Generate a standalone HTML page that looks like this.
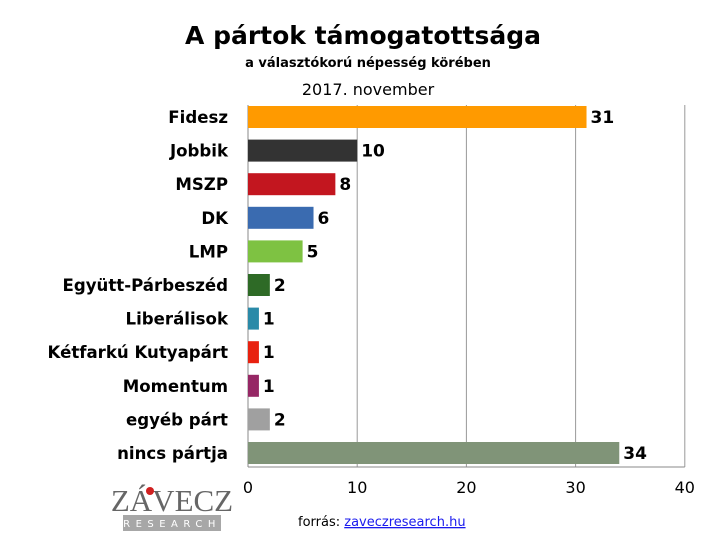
<!DOCTYPE html>
<html><head><meta charset="utf-8"><style>
body{margin:0;background:#fff;width:727px;height:546px;overflow:hidden;font-family:"DejaVu Sans","Liberation Sans",sans-serif}
</style></head><body>
<svg width="727" height="546" xmlns="http://www.w3.org/2000/svg">
<text x="363" y="44" text-anchor="middle" font-size="25" font-weight="bold" fill="#000" font-family="DejaVu Sans,sans-serif">A pártok támogatottsága</text>
<text x="368" y="67" text-anchor="middle" font-size="13" font-weight="bold" fill="#000">a választókorú népesség körében</text>
<text x="368" y="95" text-anchor="middle" font-size="16" fill="#000">2017. november</text>
<g id="grid"></g><g id="bars"></g><g id="ticks"></g>
<g>
<text x="172" y="511" text-anchor="middle" font-family="Liberation Serif,serif" font-size="31" fill="#666">ZÁVECZ</text>
<circle cx="150" cy="491" r="4" fill="#d02020"/>
<rect x="123" y="515" width="98" height="16" fill="#a7a7a7"/>
<text x="172" y="527" text-anchor="middle" font-size="10" fill="#fff" letter-spacing="5.5">RESEARCH</text>
</g>
<text x="298" y="526" font-size="13" fill="#000">forrás: <tspan fill="#1a1aee" text-decoration="underline">zaveczresearch.hu</tspan></text>
</svg>
<script>
const categories=["Fidesz","Jobbik","MSZP","DK","LMP","Együtt-Párbeszéd","Liberálisok","Kétfarkú Kutyapárt","Momentum","egyéb párt","nincs pártja"];
const values=[31,10,8,6,5,2,1,1,1,2,34];
const colors=["#ff9a00","#333333","#c3161f","#3a6bb0","#7ec242","#2e6a26","#2a8aa8","#e8210f","#962765","#a0a0a0","#809478"];
const ticks=[0,10,20,30,40];
const NS="http://www.w3.org/2000/svg";
const X0=248,UNIT=10.92,PTOP=105,PBOT=467,C0=117,STEP=33.6,BH=22;
const xs=v=>X0+v*UNIT;
const ys=i=>C0+i*STEP;
function mk(t,a,p){const e=document.createElementNS(NS,t);for(const k in a)e.setAttribute(k,a[k]);p.appendChild(e);return e;}
const gG=document.getElementById('grid'),gB=document.getElementById('bars'),gT=document.getElementById('ticks');
ticks.forEach(t=>{
 const l=mk('line',{x1:xs(t),x2:xs(t),y1:PTOP,y2:PBOT,stroke:t===0?'#888':'#999','stroke-width':1},gG);
 
 
 const tx=mk('text',{x:xs(t),y:493,'text-anchor':'middle','font-size':16,fill:'#000'},gT);
 tx.textContent=t;
 
 
});
const ax=mk('line',{x1:X0,x2:xs(40),y1:PBOT,y2:PBOT,stroke:'#888'},gG);


categories.forEach((c,i)=>{
 const y=ys(i);
 const r=mk('rect',{x:X0,y:y-BH/2,width:xs(values[i])-X0,height:BH,fill:colors[i]},gB);
 
 
 const v=mk('text',{x:xs(values[i])+4,y:y+6,'font-size':17,'font-weight':'bold',fill:'#000'},gB);
 v.textContent=values[i];
 
 
 const l=mk('text',{x:228,y:y+6,'text-anchor':'end','font-size':16.6,'font-weight':'bold',fill:'#000'},gB);
 l.textContent=c;
 
 
});
</script>
</body></html>
